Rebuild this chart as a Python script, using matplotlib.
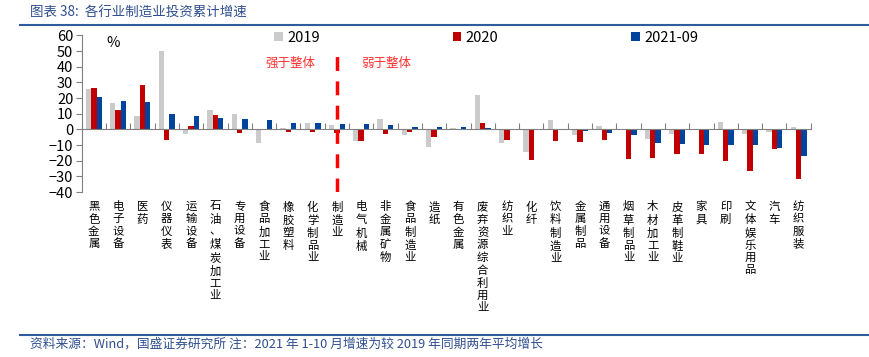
import matplotlib
matplotlib.use("Agg")
import matplotlib.pyplot as plt
import matplotlib.transforms as mtrans
import numpy as np

plt.rcParams['font.family'] = ['Noto Sans CJK SC', 'DejaVu Sans']

# industries, sorted as in the source chart
industries = ['黑色金属', '电子设备', '医药', '仪器仪表', '运输设备', '石油、煤炭加工业',
              '专用设备', '食品加工业', '橡胶塑料', '化学制品业', '制造业', '电气机械',
              '非金属矿物', '食品制造业', '造纸', '有色金属', '废弃资源综合利用业', '纺织业',
              '化纤', '饮料制造业', '金属制品', '通用设备', '烟草制品业', '木材加工业',
              '皮革制鞋业', '家具', '印刷', '文体娱乐用品', '汽车', '纺织服装']

# cumulative growth, %
v2019 = [25.7, 16.8, 8.3, 50.4, -2.6, 12.3, 9.6, -8.9, 0.6, 4.0, 3.0, -7.4,
         6.6, -3.6, -11.5, 0.9, 21.7, -8.9, -14.3, 6.0, -3.8, 1.9, 0.2, -6.2,
         -2.8, -0.6, 4.5, -2.6, -1.5, 1.5]
v2020 = [26.4, 12.3, 28.3, -7.0, 2.3, 9.1, -2.3, -0.5, -1.5, -1.5, -2.1, -7.7,
         -3.0, -1.9, -5.1, -0.6, 3.8, -7.0, -19.4, -7.7, -8.3, -6.6, -18.9, -18.1,
         -16.0, -15.7, -20.4, -26.4, -12.6, -31.9]
v2021 = [20.4, 17.9, 17.7, 9.6, 8.5, 7.0, 6.8, 6.2, 4.3, 4.0, 3.4, 3.4,
         2.8, 1.7, 1.3, 1.3, 1.1, -0.3, -0.2, -0.2, -0.9, -2.1, -3.4, -8.5,
         -9.6, -9.8, -9.8, -10.2, -11.9, -16.8]

series_names = ['2019', '2020', '2021-09']
colors = ['#CBCBCB', '#C00000', '#00449E']
title_color = '#2F4F8F'

fig = plt.figure(figsize=(8.69, 3.57), dpi=100)
ax = fig.add_axes([0.094, 0.462, 0.839, 0.4386])

x = np.arange(len(industries))
w = 0.22
for k, (vals, name, c) in enumerate(zip([v2019, v2020, v2021], series_names, colors)):
    ax.bar(x + (k - 1) * w, vals, width=w, color=c, label=name, zorder=2)

ax.set_xlim(-0.5, len(industries) - 0.5)
ax.set_ylim(-40, 60)
ax.set_yticks(range(-40, 61, 10))
ax.tick_params(axis='y', labelsize=10.5, length=4, color='#808080', pad=2)

for s in ['top', 'right']:
    ax.spines[s].set_visible(False)
ax.spines['left'].set_color('#808080')
ax.spines['bottom'].set_position(('data', 0))
ax.spines['bottom'].set_color('#808080')
ax.spines['bottom'].set_zorder(3)
ax.set_xticks(np.arange(-0.5, len(industries), 1.0))
ax.tick_params(axis='x', direction='in', length=4, color='#808080', labelbottom=False)

# vertical category labels under the plot area
trans = mtrans.blended_transform_factory(ax.transData, ax.transAxes)
for i, name in enumerate(industries):
    ax.text(i, -0.06, '\n'.join(name), transform=trans, ha='center', va='top',
            fontsize=8.2, linespacing=1.25)

ax.text(0.8, 55, '%', fontsize=10.5, va='center', ha='center')

# divider between stronger / weaker than overall manufacturing
ax.plot([10, 10], [-40, 50.5], color='#FF0000', lw=2.5, ls=(0, (4, 3)), zorder=4)
ax.text(8.1, 42.5, '强于整体', color='#FF3030', fontsize=9, ha='center', va='center')
ax.text(12.05, 42.5, '弱于整体', color='#FF3030', fontsize=9, ha='center', va='center')

leg = ax.legend(loc='center', bbox_to_anchor=(0.555, 0.985), ncol=3, frameon=False,
                fontsize=10.5, handlelength=0.6, handleheight=0.6, handletextpad=0.3,
                columnspacing=9.1)

# header / footer
fig.text(0.035, 0.965, '图表 38:  各行业制造业投资累计增速', color=title_color,
         fontsize=9.7, style='italic', va='center')
fig.add_artist(plt.Line2D([0.023, 1.0], [0.93, 0.93], color='#2E5C9E', lw=1.5))
fig.add_artist(plt.Line2D([0.023, 1.0], [0.062, 0.062], color='#2E5C9E', lw=1.5))
fig.text(0.035, 0.035, '资料来源：Wind，国盛证券研究所 注：2021 年 1-10 月增速为较 2019 年同期两年平均增长',
         color=title_color, fontsize=9.2, style='italic', va='center')

fig.savefig('out.png', dpi=100)
